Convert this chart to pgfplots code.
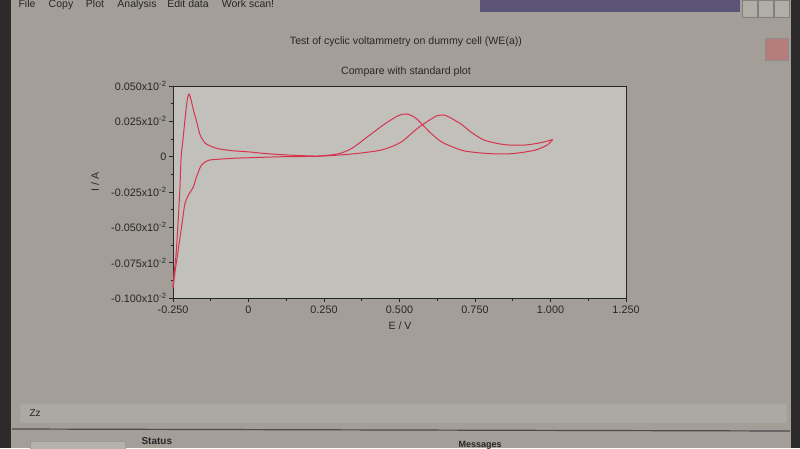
\documentclass[border=0pt]{standalone}
\usepackage{fontspec}
\setmainfont{Liberation Sans}
\usepackage{pgfplots}
\pgfplotsset{compat=1.18}
\definecolor{scr}{RGB}{163,158,152}
\definecolor{plotbg}{RGB}{194,192,186}
\definecolor{cvred}{RGB}{214,52,78}
\definecolor{txt}{RGB}{40,38,38}
\definecolor{bezel}{RGB}{45,42,44}
\definecolor{titlebar}{RGB}{92,84,118}

\begin{document}
\begin{tikzpicture}[x=1pt,y=1pt]
\useasboundingbox (0,0) rectangle (800,448);
\clip (0,0) rectangle (800,448);
% screen and window chrome
\fill[scr] (0,0) rectangle (800,448);
\fill[bezel] (0,0) rectangle (11,448);
\fill[bezel] (791,0) rectangle (800,448);
\fill[titlebar] (480,436) rectangle (740,448);
\foreach \bx in {742,758,774}
  \draw[black!50,fill=scr!85!white] (\bx,431) rectangle (\bx+15,448);
\draw[black!45,fill=red!20!scr] (765,388) rectangle (788,410);
\begin{scope}[font=\fontsize{10.5}{12}\selectfont, text=txt]
  \node[anchor=base] at (27,440) {File};
  \node[anchor=base] at (61,440) {Copy};
  \node[anchor=base] at (95,440) {Plot};
  \node[anchor=base] at (137,440) {Analysis};
  \node[anchor=base] at (188,440) {Edit data};
  \node[anchor=base] at (248,440) {Work scan!};
\end{scope}
\draw[black!35,fill=scr!90!white] (20,26) rectangle (786,44);
\node[font=\fontsize{10}{11}\selectfont, text=txt, anchor=west] at (26,35) {Zz};
\draw[black!70,line width=1.2pt] (12,19) -- (790,17);
\draw[black!40,fill=scr!80!white] (30,-2) rectangle (125,7);
\node[font=\bfseries\fontsize{10}{11}\selectfont, text=txt, anchor=base west] at (138,4) {Status};
\node[font=\bfseries\fontsize{9}{10}\selectfont, text=txt, anchor=base west] at (455,1) {Messages};

% titles and axis labels
\node[font=\fontsize{10.6}{12}\selectfont, text=txt] at (406,406) {Test of cyclic voltammetry on dummy cell (WE(a))};
\node[font=\fontsize{10.6}{12}\selectfont, text=txt] at (406,376) {Compare with standard plot};
\node[font=\fontsize{10.6}{12}\selectfont, text=txt] at (400,122) {E / V};
\node[font=\fontsize{10.6}{12}\selectfont, text=txt, rotate=90] at (95,266) {I / A};

\begin{axis}[
    at={(173pt,150pt)}, anchor=south west,
    width=453pt, height=212pt, scale only axis,
    xmin=-0.25, xmax=1.25,
    ymin=-0.1, ymax=0.05,
    axis background/.style={fill=plotbg},
    axis line style={black!85, line width=0.9pt},
    xtick={-0.25,0,0.25,0.5,0.75,1,1.25},
    xticklabels={-0.250,0,0.250,0.500,0.750,1.000,1.250},
    minor xtick={-0.125,0.125,0.375,0.625,0.875,1.125},
    ytick={-0.1,-0.075,-0.05,-0.025,0,0.025,0.05},
    yticklabels={-0.100x10\textsuperscript{-2},-0.075x10\textsuperscript{-2},-0.050x10\textsuperscript{-2},-0.025x10\textsuperscript{-2},0,0.025x10\textsuperscript{-2},0.050x10\textsuperscript{-2}},
    minor ytick={-0.0875,-0.0625,-0.0375,-0.0125,0.0125,0.0375},
    xtick pos=bottom, ytick pos=left,
    tick align=outside,
    major tick length=4pt, minor tick length=2.5pt,
    tick style={black!85, line width=0.8pt},
    ticklabel style={font=\fontsize{10.8}{12}\selectfont, text=txt},
    yticklabel style={xshift=1pt},
    clip=false,
]
% forward sweep
\addplot[color=cvred, line width=1pt, smooth, tension=0.45] coordinates {
    (-0.250,-0.0930) (-0.247,-0.0836) (-0.240,-0.0694) (-0.233,-0.0457)
    (-0.227,-0.0218) (-0.223,0.0000) (-0.217,0.0120) (-0.209,0.0290)
    (-0.203,0.0400) (-0.199,0.0437) (-0.196,0.0442) (-0.190,0.0400)
    (-0.183,0.0336) (-0.171,0.0241) (-0.160,0.0152) (-0.143,0.0095)
    (-0.120,0.0070) (-0.099,0.0056) (-0.054,0.0042) (0.000,0.0034)
    (0.057,0.0022) (0.118,0.0013) (0.180,0.0007) (0.234,0.0005)
    (0.299,0.0021) (0.343,0.0060) (0.398,0.0147) (0.453,0.0234)
    (0.497,0.0291) (0.524,0.0302) (0.552,0.0276) (0.574,0.0231)
    (0.606,0.0162) (0.639,0.0105) (0.672,0.0072) (0.716,0.0040)
    (0.793,0.0022) (0.870,0.0021) (0.947,0.0045) (0.990,0.0084)
    (1.007,0.0121)
};
% reverse sweep
\addplot[color=cvred, line width=1pt, smooth, tension=0.45] coordinates {
    (1.007,0.0121)
    (0.968,0.0099) (0.914,0.0082) (0.848,0.0085) (0.782,0.0116)
    (0.738,0.0172) (0.705,0.0229) (0.661,0.0284) (0.645,0.0295)
    (0.625,0.0290) (0.606,0.0268) (0.563,0.0206) (0.508,0.0107)
    (0.470,0.0068) (0.431,0.0043) (0.343,0.0019) (0.234,0.0003)
    (0.118,0.0000) (-0.003,-0.0008) (-0.046,-0.0011) (-0.112,-0.0020)
    (-0.134,-0.0027) (-0.156,-0.0060) (-0.172,-0.0143) (-0.183,-0.0215)
    (-0.200,-0.0276) (-0.211,-0.0338) (-0.219,-0.0457) (-0.227,-0.0575)
    (-0.235,-0.0693) (-0.243,-0.0812) (-0.250,-0.0930)
};
\end{axis}
\end{tikzpicture}
\end{document}
